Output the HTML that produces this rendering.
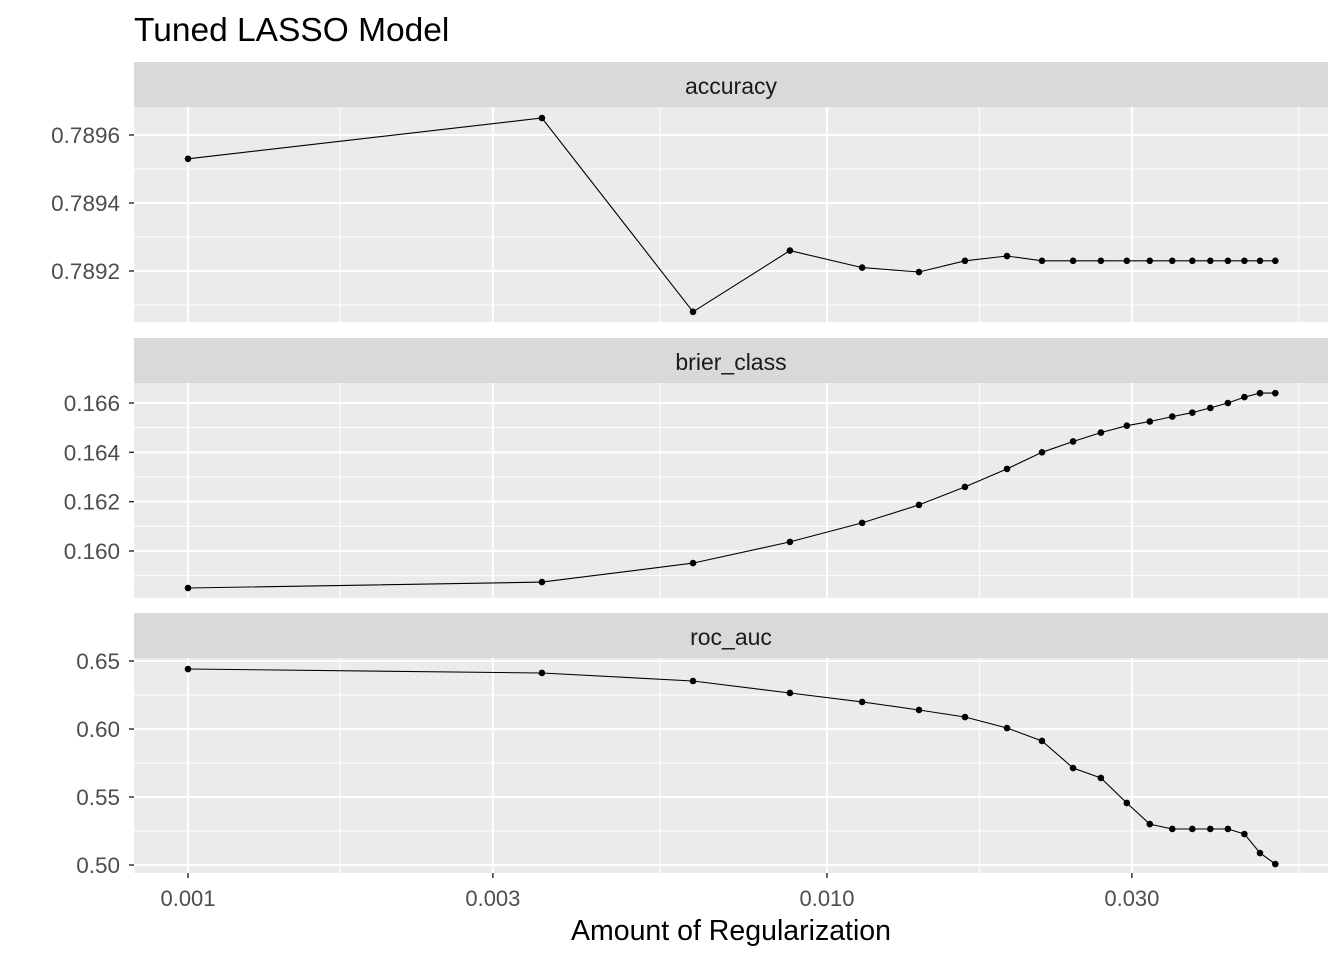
<!DOCTYPE html>
<html><head><meta charset="utf-8"><style>
html,body{margin:0;padding:0;background:#fff;}
svg text{font-family:"Liberation Sans",Arial,sans-serif;}
</style></head><body>
<svg id="chart" width="1344" height="960" xmlns="http://www.w3.org/2000/svg">
<text x="134" y="41" font-size="33.5" fill="#000">Tuned LASSO Model</text>
<text x="731" y="940" font-size="28.5" fill="#000" text-anchor="middle">Amount of Regularization</text>
</svg>
<script>
const penalty = [0.001,0.00358,0.00617,0.00875,0.01135,0.01393,0.01644,0.01913,0.0217,0.02427,0.02683,0.02946,0.0320,0.0347,0.0373,0.0398,0.0424,0.0450,0.0476,0.0503];
const accuracy = [0.78953,0.78965,0.78908,0.78926,0.78921,0.789197,0.78923,0.789244,0.78923,0.78923,0.78923,0.78923,0.78923,0.78923,0.78923,0.78923,0.78923,0.78923,0.78923,0.78923];
const brier = [0.1585,0.15874,0.15951,0.16037,0.16114,0.16187,0.1626,0.16333,0.164,0.16444,0.1648,0.16508,0.16525,0.16545,0.16561,0.1658,0.166,0.16624,0.1664,0.1664];
const rocAuc = [0.6441,0.6412,0.6353,0.6265,0.6199,0.614,0.6088,0.6007,0.5912,0.5713,0.564,0.5456,0.5301,0.5265,0.5265,0.5265,0.5265,0.5228,0.5088,0.5007];
const xTicks = [0.001,0.003,0.01,0.03];
const xTickLabels = ["0.001","0.003","0.010","0.030"];
const xMinor = [0.00173,0.00548,0.01732,0.05477];
const panelNames = ["accuracy","brier_class","roc_auc"];
const accTicks = [0.7892,0.7894,0.7896];
const accMinor = [0.7891,0.7893,0.7895,0.7897];
const brierTicks = [0.160,0.162,0.164,0.166];
const brierMinor = [0.159,0.161,0.163,0.165,0.167];
const rocTicks = [0.50,0.55,0.60,0.65];
const rocMinor = [0.525,0.575,0.625];

const NS="http://www.w3.org/2000/svg";
const svg=document.getElementById('chart');
function el(t,a,p){const e=document.createElementNS(NS,t);for(const k in a)e.setAttribute(k,a[k]);(p||svg).appendChild(e);return e;}
const L=134,R=1328;
const x=v=>188+(Math.log10(v)+3)*639;
const panels=[
 {name:panelNames[0],vals:accuracy,ticks:accTicks,minor:accMinor,dec:4,top:62,y0:0.7896,py0:135,per:68/0.0002},
 {name:panelNames[1],vals:brier,ticks:brierTicks,minor:brierMinor,dec:3,top:338,y0:0.160,py0:551,per:49.33/0.002},
 {name:panelNames[2],vals:rocAuc,ticks:rocTicks,minor:rocMinor,dec:2,top:613,y0:0.50,py0:865,per:68/0.05}
];
panels.forEach((p,i)=>{
 const g=el('g',{});
 
 
 const st=el('rect',{x:L,y:p.top,width:R-L,height:45,fill:'#d9d9d9'},g);
 
 
 const stt=el('text',{x:(L+R)/2,y:p.top+32,'font-size':23,fill:'#1a1a1a','text-anchor':'middle'},g);stt.textContent=p.name;
 
 
 const pt=p.top+45,pb=pt+215;
 const bg=el('rect',{x:L,y:pt,width:R-L,height:pb-pt,fill:'#ebebeb'},g);
 
 
 const y=v=>p.py0-(v-p.y0)*p.per;
 p.minor.forEach(v=>{const yy=y(v);if(yy>pt&&yy<pb)el('line',{x1:L,x2:R,y1:yy,y2:yy,stroke:'#fff','stroke-width':1},g);});
 xMinor.forEach(v=>el('line',{x1:x(v),x2:x(v),y1:pt,y2:pb,stroke:'#fff','stroke-width':1},g));
 p.ticks.forEach(v=>{const yy=y(v);el('line',{x1:L,x2:R,y1:yy,y2:yy,stroke:'#fff','stroke-width':2},g);
  el('line',{x1:L-5,x2:L,y1:yy,y2:yy,stroke:'#333','stroke-width':1.5},g);
  const t=el('text',{x:L-14,y:yy+8,'font-size':22.5,fill:'#4d4d4d','text-anchor':'end'},g);t.textContent=v.toFixed(p.dec);
  
  });
 xTicks.forEach(v=>el('line',{x1:x(v),x2:x(v),y1:pt,y2:pb,stroke:'#fff','stroke-width':2},g));
 const d=p.vals.map((v,j)=>(j?'L':'M')+x(penalty[j]).toFixed(1)+','+y(v).toFixed(1)).join('');
 const ln=el('path',{d:d,fill:'none',stroke:'#000','stroke-width':1.1},g);
 
 
 p.vals.forEach((v,j)=>{const c=el('circle',{cx:x(penalty[j]),cy:y(v),r:3.3,fill:'#000'},g);
  
  });
 if(i==2){xTicks.forEach((v,k)=>{el('line',{x1:x(v),x2:x(v),y1:pb,y2:pb+5,stroke:'#333','stroke-width':1.5},g);
  const t=el('text',{x:x(v),y:pb+33,'font-size':22,fill:'#4d4d4d','text-anchor':'middle'},g);t.textContent=xTickLabels[k];
  
  });}
});
</script>
</body></html>
